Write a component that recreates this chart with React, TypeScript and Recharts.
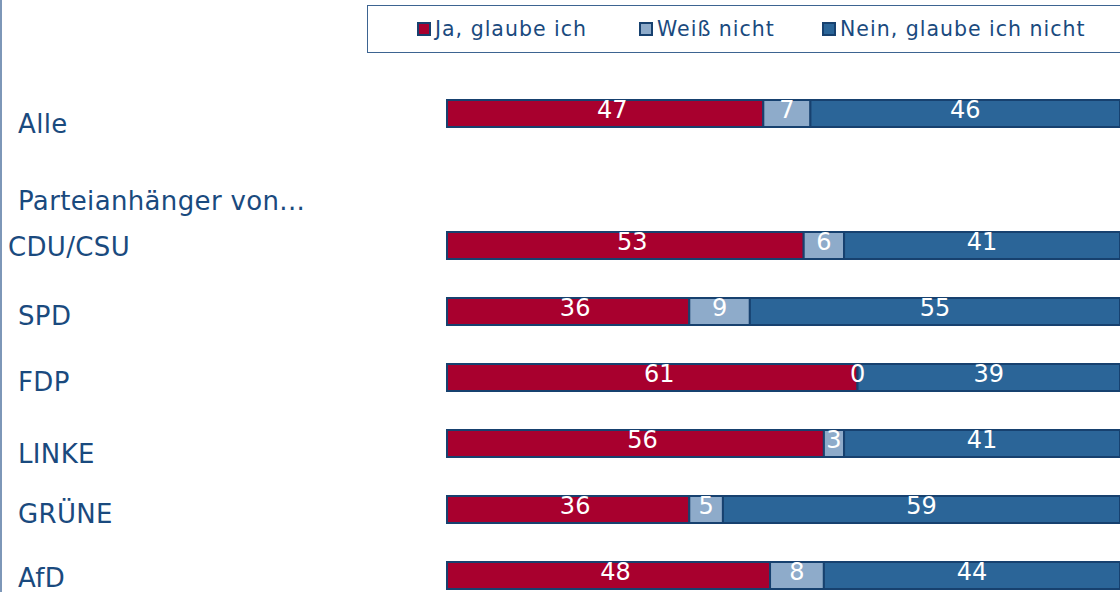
import React from 'react';
import { BarChart, Bar, XAxis, YAxis, Legend, LabelList } from 'recharts';

const categories = ['Alle', 'Parteianhänger von...', 'CDU/CSU', 'SPD', 'FDP', 'LINKE', 'GRÜNE', 'AfD'];
const jaValues = [47, null, 53, 36, 61, 56, 36, 48];
const weissValues = [7, null, 6, 9, 0, 3, 5, 8];
const neinValues = [46, null, 41, 55, 39, 41, 59, 44];

const seriesNames = ['Ja, glaube ich', 'Weiß nicht', 'Nein, glaube ich nicht'];
const COLORS = ['#a8002e', '#8eabca', '#2b6598'];
const BORDER = '#17416f';
const TEXT = '#1a4a7e';
const FONT = '"DejaVu Sans", Verdana, sans-serif';

const data = categories.map((name, i) => ({
  name,
  ja: jaValues[i],
  weiss: weissValues[i],
  nein: neinValues[i],
}));

// label placement tweaks (baseline offset from band centre, left x)
const tickStyle: Record<string, { x: number; dy: number }> = {
  'Alle': { x: 18, dy: 19.5 },
  'Parteianhänger von...': { x: 18, dy: 30.5 },
  'CDU/CSU': { x: 8, dy: 11 },
  'SPD': { x: 18, dy: 14 },
  'FDP': { x: 18, dy: 13.5 },
  'LINKE': { x: 18, dy: 20 },
  'GRÜNE': { x: 18, dy: 13.5 },
  'AfD': { x: 18, dy: 12 },
};

function CategoryTick(props: any) {
  const { y, payload } = props;
  const s = tickStyle[payload.value] || { x: 18, dy: 10 };
  return (
    <text x={s.x} y={y + s.dy} fill={TEXT} fontSize={26} letterSpacing={0.35} fontFamily={FONT} textAnchor="start">
      {payload.value}
    </text>
  );
}

const legendItemLeft = [49, 271, 454];

function renderLegend() {
  return (
    <div
      style={{
        position: 'relative',
        width: 760,
        height: 48,
        border: '1px solid #3d6491',
        boxSizing: 'border-box',
        background: '#fff',
      }}
    >
      {seriesNames.map((name, i) => (
        <div
          key={name}
          style={{
            position: 'absolute',
            left: legendItemLeft[i],
            top: 11,
            display: 'flex',
            alignItems: 'center',
            whiteSpace: 'nowrap',
          }}
        >
          <span
            style={{
              display: 'inline-block',
              width: 14,
              height: 14,
              background: COLORS[i],
              border: `2px solid ${BORDER}`,
              boxSizing: 'border-box',
              marginRight: 4,
            }}
          />
          <span style={{ fontFamily: FONT, fontSize: 20.5, letterSpacing: 1, color: TEXT, lineHeight: '24px' }}>
            {name}
          </span>
        </div>
      ))}
    </div>
  );
}

const valueText = (key: string, cx: number, cy: number, value: any) => (
  <text key={key} x={cx} y={cy + 4} fill="#fff" fontSize={24} fontFamily={FONT} textAnchor="middle">
    {value}
  </text>
);

// white value label centred in its segment
const makeValueLabel = (shiftX: number) => (props: any) => {
  const { x, y, width, height, value } = props;
  if (value === null || value === undefined) return null;
  return valueText('v', Number(x) + Number(width) / 2 + shiftX, Number(y) + Number(height) / 2, value);
};

// the last segment gets the whole row, so it can also draw a zero "Weiß nicht"
// label (recharts drops zero-width bars and their labels)
const neinLabel = (props: any) => {
  const { x, y, width, height, value } = props;
  const row = value as { weiss: number | null; nein: number | null } | null;
  if (!row || row.nein === null || row.nein === undefined) return null;
  const cy = Number(y) + Number(height) / 2;
  return (
    <g>
      {row.weiss === 0 ? valueText('z', Number(x), cy, 0) : null}
      {valueText('v', Number(x) + Number(width) / 2, cy, row.nein)}
    </g>
  );
};

export default function App() {
  return (
    <div style={{ position: 'absolute', top: 0, left: 0, width: 1120, height: 592, overflow: 'hidden', background: '#fff' }}>
      <div style={{ position: 'absolute', left: 0, top: 0, width: 2, height: 592, background: '#7d97b8' }} />
      <BarChart
        width={1122}
        height={608}
        data={data}
        layout="vertical"
        margin={{ top: 80, right: 2, bottom: 0, left: 0 }}
        barSize={27}
      >
        <XAxis type="number" domain={[0, 100]} hide />
        <YAxis
          type="category"
          dataKey="name"
          width={447}
          axisLine={false}
          tickLine={false}
          tick={<CategoryTick />}
          interval={0}
        />
        <Legend
          layout="vertical"
          align="center"
          verticalAlign="middle"
          wrapperStyle={{ position: 'absolute', top: 5, left: 367, width: 760, height: 48 }}
          content={renderLegend}
        />
        <Bar dataKey="ja" name={seriesNames[0]} stackId="a" fill={COLORS[0]} stroke={BORDER} strokeWidth={2} isAnimationActive={false}>
          <LabelList dataKey="ja" content={makeValueLabel(7)} />
        </Bar>
        <Bar dataKey="weiss" name={seriesNames[1]} stackId="a" fill={COLORS[1]} stroke={BORDER} strokeWidth={2} isAnimationActive={false}>
          <LabelList dataKey="weiss" content={makeValueLabel(0)} />
        </Bar>
        <Bar dataKey="nein" name={seriesNames[2]} stackId="a" fill={COLORS[2]} stroke={BORDER} strokeWidth={2} isAnimationActive={false}>
          <LabelList dataKey={(d: any) => d} content={neinLabel} />
        </Bar>
      </BarChart>
    </div>
  );
}
